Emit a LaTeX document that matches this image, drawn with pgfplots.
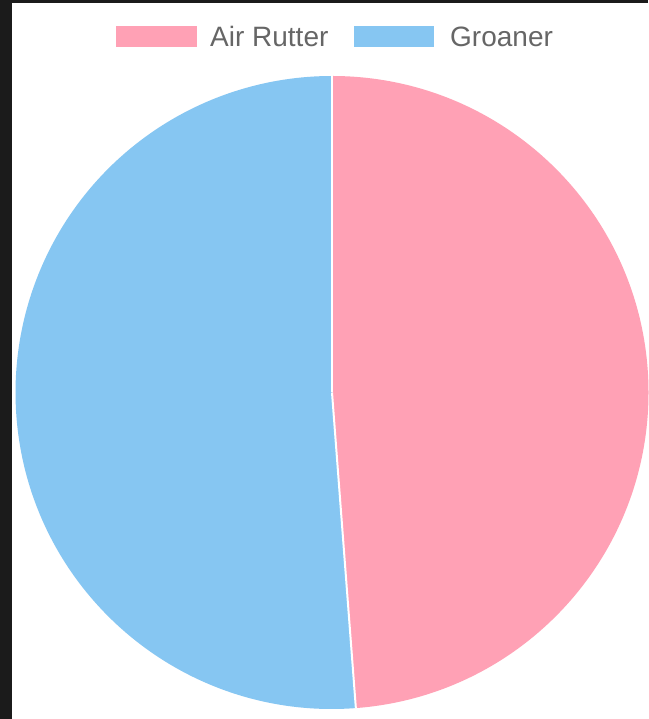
\documentclass[border=0pt]{standalone}
\usepackage{pgfplots}
\pgfplotsset{compat=1.18}
\usepackage{fontspec}
\setmainfont{Liberation Sans}
\definecolor{bgdark}{RGB}{27,27,27}
\definecolor{pinkc}{RGB}{255,161,181}
\definecolor{bluec}{RGB}{134,198,242}
\definecolor{txtgray}{RGB}{102,102,102}
% data: share of each category (percent)
\def\valA{48.8} % Air Rutter
\def\valB{51.2} % Groaner
\begin{document}
\begin{tikzpicture}
\pgfmathsetmacro\angA{360*(\valA/(\valA+\valB))}
\pgfmathsetmacro\endA{90-\angA}
\begin{axis}[
  width=648pt, height=719pt, scale only axis,
  xmin=0, xmax=648, ymin=0, ymax=719,
  hide axis, clip=false,
]
% background frame
\fill[bgdark] (axis cs:0,0) rectangle (axis cs:648,719);
\fill[white] (axis cs:12,0) rectangle (axis cs:648,716);
% pie
\fill[pinkc] (axis cs:332,326.5) -- ++(90:316.5pt) arc[start angle=90, end angle=\endA, radius=316.5pt] -- cycle;
\fill[bluec] (axis cs:332,326.5) -- ++(\endA:316.5pt) arc[start angle=\endA, end angle=-270, radius=316.5pt] -- cycle;
\draw[white, line width=2pt] (axis cs:332,326.5) -- ++(90:317pt);
\draw[white, line width=2pt] (axis cs:332,326.5) -- ++(\endA:317pt);
% legend
\fill[pinkc] (axis cs:116,693) rectangle (axis cs:197,672);
\node[anchor=base west, inner sep=0pt, text=txtgray, font=\fontsize{28}{33}\selectfont] at (axis cs:210,672) {Air Rutter};
\fill[bluec] (axis cs:354,693) rectangle (axis cs:434,672);
\node[anchor=base west, inner sep=0pt, text=txtgray, font=\fontsize{28}{33}\selectfont] at (axis cs:450,672) {Groaner};
\end{axis}
\pgfresetboundingbox
\path (0,0) rectangle (648pt,719pt);
\end{tikzpicture}
\end{document}
